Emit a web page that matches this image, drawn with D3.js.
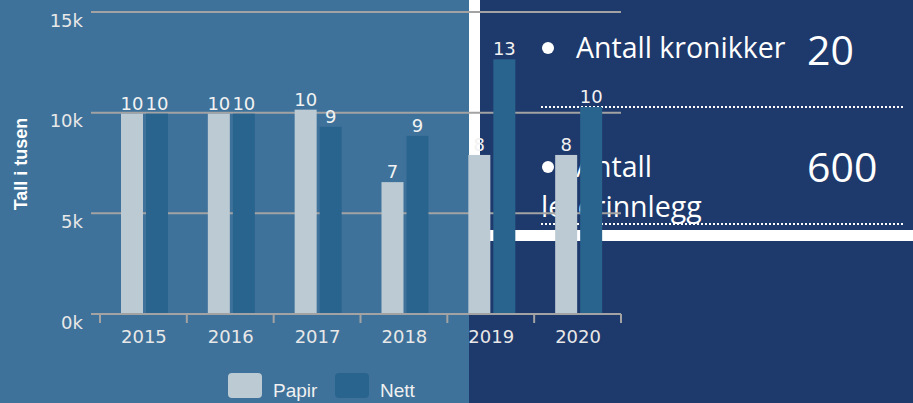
<!DOCTYPE html>
<html>
<head>
<meta charset="utf-8">
<script src="https://cdn.jsdelivr.net/npm/d3@7"></script>
<style>
  html, body { margin: 0; padding: 0; background: #1e396b; }
  svg { display: block; }
</style>
</head>
<body>
<svg id="chart" width="913" height="403"></svg>
<script>
// ---- data ----
const years = ["2015", "2016", "2017", "2018", "2019", "2020"];
const seriesNames = ["Papir", "Nett"];
const papir = [9950, 9950, 10150, 6550, 7900, 7900];
const nett  = [9950, 9950, 9300, 8850, 12650, 10280];
const yTicks = [0, 5000, 10000, 15000];
const yTickLabels = ["0k", "5k", "10k", "15k"];
const yTitle = "Tall i tusen";
const statLabels = ["Antall kronikker", "Antall"];
const statLabels2 = ["", "leserinnlegg"];
const statValues = ["20", "600"];

const colors = { Papir: "#bccad4", Nett: "#29648f" };

const svg = d3.select("#chart");
const W = 913, H = 403;

// ---- background panels ----
svg.append("rect").attr("x", 0).attr("y", 0).attr("width", 469).attr("height", H).attr("fill", "#3e729a");
svg.append("rect").attr("x", 469).attr("y", 0).attr("width", W - 469).attr("height", H).attr("fill", "#1e396b");
svg.append("rect").attr("x", 469).attr("y", 0).attr("width", 11).attr("height", 231).attr("fill", "#ffffff");
svg.append("rect").attr("x", 469).attr("y", 230).attr("width", W - 469).attr("height", 11).attr("fill", "#ffffff");

// ---- right panel stats ----
const statY = [58, 177];
const statG = svg.append("g").attr("font-family", "'Open Sans', sans-serif").attr("fill", "#ffffff");
statLabels.forEach((lab, i) => {
  statG.append("circle").attr("cx", 548).attr("cy", statY[i] - 10).attr("r", 6).attr("fill", "#ffffff");
  statG.append("text").attr("x", 576).attr("y", statY[i]).attr("font-size", 28.5).text(lab);
  if (statLabels2[i]) {
    statG.append("text").attr("x", 541).attr("y", statY[i] + 40).attr("font-size", 28.5).text(statLabels2[i]);
  }
  statG.append("text").attr("x", 807).attr("y", statY[i] + (i === 0 ? 7 : 5)).attr("font-size", 41).text(statValues[i]);
});
[107, 224].forEach(y => {
  svg.append("line").attr("x1", 541).attr("x2", 905).attr("y1", y).attr("y2", y)
    .attr("stroke", "#ffffff").attr("stroke-width", 2).attr("stroke-dasharray", "2,2");
});

// ---- scales ----
const x = d3.scaleBand().domain(years).range([100, 621]).padding(0);
const xSub = d3.scaleBand().domain(seriesNames).range([21, 68]).paddingInner(0.12);
const y = d3.scaleLinear().domain([0, 15000]).range([314, 12]);

// ---- gridlines ----
const grid = svg.append("g");
grid.selectAll("line").data(yTicks).join("line")
  .attr("x1", 91).attr("x2", 621)
  .attr("y1", d => y(d)).attr("y2", d => y(d))
  .attr("stroke", "#a3a3a3").attr("stroke-width", 2);

// y tick labels
svg.append("g").selectAll("text").data(yTicks).join("text")
  .attr("x", 83).attr("y", d => y(d) + 14.5)
  .attr("text-anchor", "end")
  .attr("font-family", "'DejaVu Sans', sans-serif").attr("font-size", 18)
  .attr("fill", "#e8e8e8")
  .text((d, i) => yTickLabels[i]);

// y title
svg.append("text")
  .attr("transform", "translate(27,164) rotate(-90)")
  .attr("text-anchor", "middle")
  .attr("font-family", "'Liberation Sans', Arial, sans-serif").attr("font-weight", "bold")
  .attr("font-size", 18).attr("fill", "#ffffff")
  .text(yTitle);

// ---- bars ----
const rows = years.map((yr, i) => ({ year: yr, values: [{ s: "Papir", v: papir[i] }, { s: "Nett", v: nett[i] }] }));
const groups = svg.append("g").selectAll("g").data(rows).join("g")
  .attr("transform", d => `translate(${x(d.year)},0)`);
groups.selectAll("rect").data(d => d.values).join("rect")
  .attr("x", d => xSub(d.s)).attr("width", xSub.bandwidth())
  .attr("y", d => y(d.v)).attr("height", d => y(0) - y(d.v))
  .attr("fill", d => colors[d.s]);
groups.selectAll("text").data(d => d.values).join("text")
  .attr("x", d => xSub(d.s) + xSub.bandwidth() / 2)
  .attr("y", d => y(d.v) - 4)
  .attr("text-anchor", "middle")
  .attr("font-family", "'DejaVu Sans', sans-serif").attr("font-size", 18)
  .attr("fill", "#f2f2f2")
  .text(d => Math.round(d.v / 1000));

// ---- x axis ----
const xAxis = svg.append("g");
xAxis.append("line").attr("x1", 91).attr("x2", 621).attr("y1", y(0)).attr("y2", y(0))
  .attr("stroke", "#a3a3a3").attr("stroke-width", 2);
const bounds = years.map(d => x(d)).concat([x(years[years.length - 1]) + x.bandwidth()]);
xAxis.selectAll("line.tick").data(bounds).join("line").attr("class", "tick")
  .attr("x1", d => d).attr("x2", d => d).attr("y1", y(0)).attr("y2", y(0) + 9)
  .attr("stroke", "#a3a3a3").attr("stroke-width", 2);
xAxis.selectAll("text").data(years).join("text")
  .attr("x", d => x(d) + x.bandwidth() / 2 + 0.5).attr("y", 342.5)
  .attr("text-anchor", "middle")
  .attr("font-family", "'DejaVu Sans', sans-serif").attr("font-size", 18)
  .attr("fill", "#e8e8e8")
  .text(d => d);

// ---- legend ----
const legendX = [228, 335];
const lg = svg.append("g").selectAll("g").data(seriesNames).join("g")
  .attr("transform", (d, i) => `translate(${legendX[i]},373)`);
lg.append("rect").attr("width", 34).attr("height", 25).attr("rx", 4).attr("fill", d => colors[d]);
lg.append("text").attr("x", 45).attr("y", 24)
  .attr("font-family", "'Liberation Sans', Arial, sans-serif").attr("font-size", 19)
  .attr("fill", "#f0f0f0").text(d => d);
</script>
</body>
</html>
